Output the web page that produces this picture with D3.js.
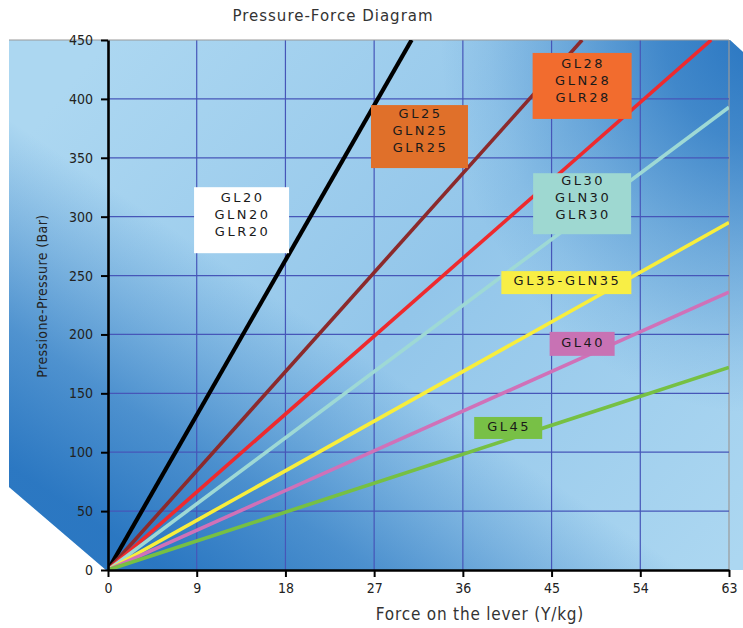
<!DOCTYPE html>
<html>
<head>
<meta charset="utf-8">
<script src="https://cdn.jsdelivr.net/npm/d3@7"></script>
<style>
  body { margin: 0; background: #fff; }
  svg { display: block; }
</style>
</head>
<body>
<div id="chart"></div>
<script>
// Series: each line runs from the origin to its end point (force, pressure)
var series = ["GL20", "GL25", "GL28", "GL30", "GL35", "GL40", "GL45"];
var endForce = [30.8, 48.1, 61.2, 63, 63, 63, 63];
var endPressure = [450, 450, 450, 393, 295, 236, 172];
var lineColors = ["#000000", "#8c2a2c", "#ee2a2e", "#9ed9d5", "#f8ee3c", "#d071b8", "#76c043"];

// Box labels
var labelLines = [
    ["GL20", "GLN20", "GLR20"],
    ["GL25", "GLN25", "GLR25"],
    ["GL28", "GLN28", "GLR28"],
    ["GL30", "GLN30", "GLR30"],
    ["GL35-GLN35"],
    ["GL40"],
    ["GL45"]
];
var boxColors = ["#ffffff", "#e0702a", "#f26c2e", "#9ed8d1", "#f8ee45", "#c872b4", "#78c046"];

var xTicks = [0, 9, 18, 27, 36, 45, 54, 63];
var yTicks = [0, 50, 100, 150, 200, 250, 300, 350, 400, 450];

var width = 743, height = 628;
var margin = {left: 108, right: 14, top: 40, bottom: 58};

var svg = d3.select("#chart").append("svg")
    .attr("width", width)
    .attr("height", height);

var x = d3.scaleLinear().domain([0, 63]).range([margin.left, width - margin.right]);
var y = d3.scaleLinear().domain([0, 450]).range([height - margin.bottom, margin.top]);

// Background: light base, darker band in the bottom-left and a dark top-right corner
var defs = svg.append("defs");
var base = defs.append("linearGradient")
    .attr("id", "bgBase")
    .attr("gradientUnits", "userSpaceOnUse")
    .attr("x1", 108).attr("y1", 40)
    .attr("x2", 729).attr("y2", 570);
base.append("stop").attr("offset", "0%").attr("stop-color", "#acd7f1");
base.append("stop").attr("offset", "50%").attr("stop-color", "#93c6ea");
base.append("stop").attr("offset", "100%").attr("stop-color", "#acd7f1");

var shadeBL = defs.append("linearGradient")
    .attr("id", "shadeBL")
    .attr("gradientUnits", "userSpaceOnUse")
    .attr("x1", 355).attr("y1", 350)
    .attr("x2", 195).attr("y2", 590);
[[0, 0], [0.3, 0.3], [0.6, 0.62], [1, 0.88]].forEach(function(s) {
    shadeBL.append("stop")
        .attr("offset", s[0])
        .attr("stop-color", "#1c6cbc")
        .attr("stop-opacity", s[1]);
});

var shadeTR = defs.append("radialGradient")
    .attr("id", "shadeTR")
    .attr("gradientUnits", "userSpaceOnUse")
    .attr("cx", 760).attr("cy", 30).attr("r", 320)
    .attr("gradientTransform", "translate(760,30) scale(1,1.2) translate(-760,-30)");
[[0, 0.9], [0.3, 0.7], [0.6, 0.35], [0.85, 0.1], [1, 0]].forEach(function(s) {
    shadeTR.append("stop")
        .attr("offset", s[0])
        .attr("stop-color", "#1c6cbc")
        .attr("stop-opacity", s[1]);
});

var y0 = y(0);
var bgPath = "M9," + margin.top + " L730," + margin.top + " L743,52 L743," + y0 +
             " L106," + y0 + " L9,487 Z";
svg.append("path").attr("d", bgPath).attr("fill", "url(#bgBase)");
svg.append("path").attr("d", bgPath).attr("fill", "url(#shadeBL)");
svg.append("path").attr("d", bgPath).attr("fill", "url(#shadeTR)");

// Grid
svg.append("g").selectAll("line")
    .data(xTicks.slice(1))
    .enter().append("line")
    .attr("x1", d => x(d)).attr("x2", d => x(d))
    .attr("y1", y(0)).attr("y2", y(450))
    .attr("stroke", d => d === 63 ? "#9a9a9a" : "#4656b8")
    .attr("stroke-width", 1.2);

svg.append("g").selectAll("line")
    .data(yTicks.slice(1))
    .enter().append("line")
    .attr("x1", d => d === 450 ? 9 : x(0)).attr("x2", x(63))
    .attr("y1", d => y(d)).attr("y2", d => y(d))
    .attr("stroke", d => d === 450 ? "#9a9a9a" : "#4656b8")
    .attr("stroke-width", 1.2);

// Lines
var clip = defs.append("clipPath").attr("id", "plot");
clip.append("rect")
    .attr("x", x(0)).attr("y", y(450))
    .attr("width", x(63) - x(0)).attr("height", y(0) - y(450));

var line = d3.line().x(d => x(d[0])).y(d => y(d[1]));

svg.append("g")
    .attr("clip-path", "url(#plot)")
    .selectAll("path")
    .data(series.map((s, i) => [[0, 0], [endForce[i], endPressure[i]]]))
    .enter().append("path")
    .attr("d", line)
    .attr("fill", "none")
    .attr("stroke", (d, i) => lineColors[i])
    .attr("stroke-width", (d, i) => i === 0 ? 4.2 : 3.6);

// Label boxes (placed in data units, sized in pixels)
var boxPlace = [
    {f: 13.55, p: 297, w: 95, h: 66},
    {f: 31.6, p: 368, w: 97, h: 63},
    {f: 48.1, p: 411, w: 99, h: 66},
    {f: 48.1, p: 311, w: 98, h: 61},
    {f: 46.5, p: 244, w: 130, h: 23},
    {f: 48.1, p: 192, w: 65, h: 24},
    {f: 40.6, p: 120.6, w: 68, h: 22}
];

var boxes = svg.append("g").selectAll("g")
    .data(boxPlace)
    .enter().append("g")
    .attr("transform", d => "translate(" + x(d.f) + "," + y(d.p) + ")");

boxes.append("rect")
    .attr("x", d => -d.w / 2).attr("y", d => -d.h / 2)
    .attr("width", d => d.w).attr("height", d => d.h)
    .attr("fill", (d, i) => boxColors[i]);

boxes.each(function(d, i) {
    var lines = labelLines[i];
    var g = d3.select(this);
    var step = 17;
    var shift = lines.length > 1 ? -6 : -2;
    lines.forEach(function(t, j) {
        g.append("text")
            .attr("x", 1)
            .attr("y", (j - (lines.length - 1) / 2) * step + shift)
            .attr("dy", "0.36em")
            .attr("text-anchor", "middle")
            .style("font-family", "'DejaVu Sans', sans-serif")
            .style("font-size", "13px")
            .style("letter-spacing", "2.5px")
            .style("fill", "#1a1a1a")
            .text(t);
    });
});

// Axes
var axisFont = "'DejaVu Sans Condensed', 'DejaVu Sans', sans-serif";

var xAxis = svg.append("g")
    .attr("transform", "translate(0," + y(0) + ")")
    .call(d3.axisBottom(x).tickValues(xTicks).tickSize(7).tickSizeOuter(0).tickPadding(6));
var yAxis = svg.append("g")
    .attr("transform", "translate(" + x(0) + ",0)")
    .call(d3.axisLeft(y).tickValues(yTicks).tickSize(7).tickSizeOuter(0).tickPadding(8));

[xAxis, yAxis].forEach(function(a) {
    a.select(".domain").attr("stroke", "#000").attr("stroke-width", 2.6);
    a.selectAll(".tick line").attr("stroke", "#000").attr("stroke-width", 2);
    a.selectAll(".tick text")
        .style("font-family", axisFont)
        .style("font-size", "14px")
        .style("fill", "#222");
});

// Titles
svg.append("text")
    .attr("x", 333).attr("y", 21)
    .attr("text-anchor", "middle")
    .style("font-family", "'DejaVu Sans', sans-serif")
    .style("font-size", "15px")
    .style("letter-spacing", "1px")
    .style("fill", "#333")
    .text("Pressure-Force Diagram");

svg.append("text")
    .attr("x", 480).attr("y", 620)
    .attr("text-anchor", "middle")
    .style("font-family", axisFont)
    .style("font-size", "17px")
    .style("letter-spacing", "0.8px")
    .style("fill", "#333")
    .text("Force on the lever (Y/kg)");

svg.append("text")
    .attr("transform", "translate(47,296) rotate(-90)")
    .attr("text-anchor", "middle")
    .style("font-family", axisFont)
    .style("font-size", "14px")
    .style("letter-spacing", "0.4px")
    .style("fill", "#222")
    .text("Pressione-Pressure (Bar)");
</script>
</body>
</html>
